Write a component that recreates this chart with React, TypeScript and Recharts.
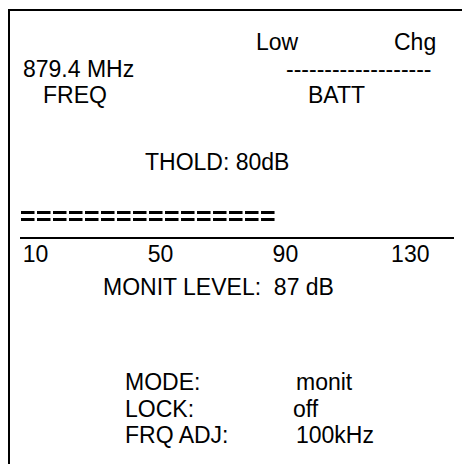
import React from "react";
import { BarChart, Bar, XAxis, YAxis } from "recharts";

const levelNames = ["MONIT"];
const levelValues = [87];
const scaleTicks = [10, 50, 90, 130];
const scaleDomain = [5, 144];

const freqText = "879.4 MHz";
const tholdText = "THOLD: 80dB";
const battLabels = ["Low", "Chg"];
const statusLabels = ["MODE:", "LOCK:", "FRQ ADJ:"];
const statusValues = ["monit", "off", "100kHz"];

const W = 462;
const H = 464;
const FONT = "'Liberation Sans', Arial, sans-serif";
const FS = 23;

const data = levelNames.map((name, i) => ({ name, level: levelValues[i] }));

// draws the level bar as a row of "=" marks
function EqualsBar(props: any) {
  const { x, y, width, height } = props;
  if (!width || width <= 0) return null;
  const count = 16;
  const step = width / count;
  const cy = y + height / 2;
  const marks = [];
  for (let i = 0; i < count; i++) {
    const mx = x + i * step + 1;
    marks.push(
      <g key={i}>
        <rect x={mx} y={cy - 5} width={step - 2.5} height={3} fill="#000" />
        <rect x={mx} y={cy + 2} width={step - 2.5} height={3} fill="#000" />
      </g>
    );
  }
  return <g>{marks}</g>;
}

function T({ x, y, children, anchor = "start" }: any) {
  return (
    <text
      x={x}
      y={y}
      textAnchor={anchor}
      fontFamily={FONT}
      fontSize={FS}
      fill="#000"
      style={{ whiteSpace: "pre" }}
    >
      {children}
    </text>
  );
}

export default function App() {
  return (
    <div style={{ position: "fixed", left: 0, top: 0, width: W, height: H, background: "#fff" }}>
      <BarChart
        width={W}
        height={H}
        data={data}
        layout="vertical"
        margin={{ top: 194, right: 8, bottom: 196, left: 20 }}
      >
        <XAxis
          type="number"
          domain={scaleDomain}
          ticks={scaleTicks}
          allowDataOverflow
          axisLine={{ stroke: "#000", strokeWidth: 2 }}
          tickLine={false}
          tick={{ fill: "#000", fontSize: FS, fontFamily: FONT }}
          tickSize={6}
          interval={0}
        />
        <YAxis type="category" dataKey="name" hide />
        <Bar dataKey="level" barSize={12} shape={<EqualsBar />} isAnimationActive={false} />
      </BarChart>
      <svg
        width={W}
        height={H}
        style={{ position: "absolute", left: 0, top: 0, pointerEvents: "none" }}
      >
        <line x1={8} y1={10} x2={W} y2={10} stroke="#000" strokeWidth={2} />
        <line x1={9} y1={10} x2={9} y2={H} stroke="#000" strokeWidth={2} />
        <T x={256} y={50}>{battLabels[0]}</T>
        <T x={394} y={50}>{battLabels[1]}</T>
        <T x={23} y={77}>{freqText}</T>
        <T x={286} y={77}>{"-------------------"}</T>
        <T x={43} y={103}>FREQ</T>
        <T x={308} y={103}>BATT</T>
        <T x={145} y={170}>{tholdText}</T>
        <T x={103} y={295}>{`MONIT LEVEL:  ${levelValues[0]} dB`}</T>
        {statusLabels.map((lab, i) => (
          <T key={lab} x={125} y={390 + i * 26.5}>{lab}</T>
        ))}
        {statusValues.map((val, i) => (
          <T key={val} x={i === 1 ? 293 : 296} y={390 + i * 26.5}>{val}</T>
        ))}
      </svg>
    </div>
  );
}
